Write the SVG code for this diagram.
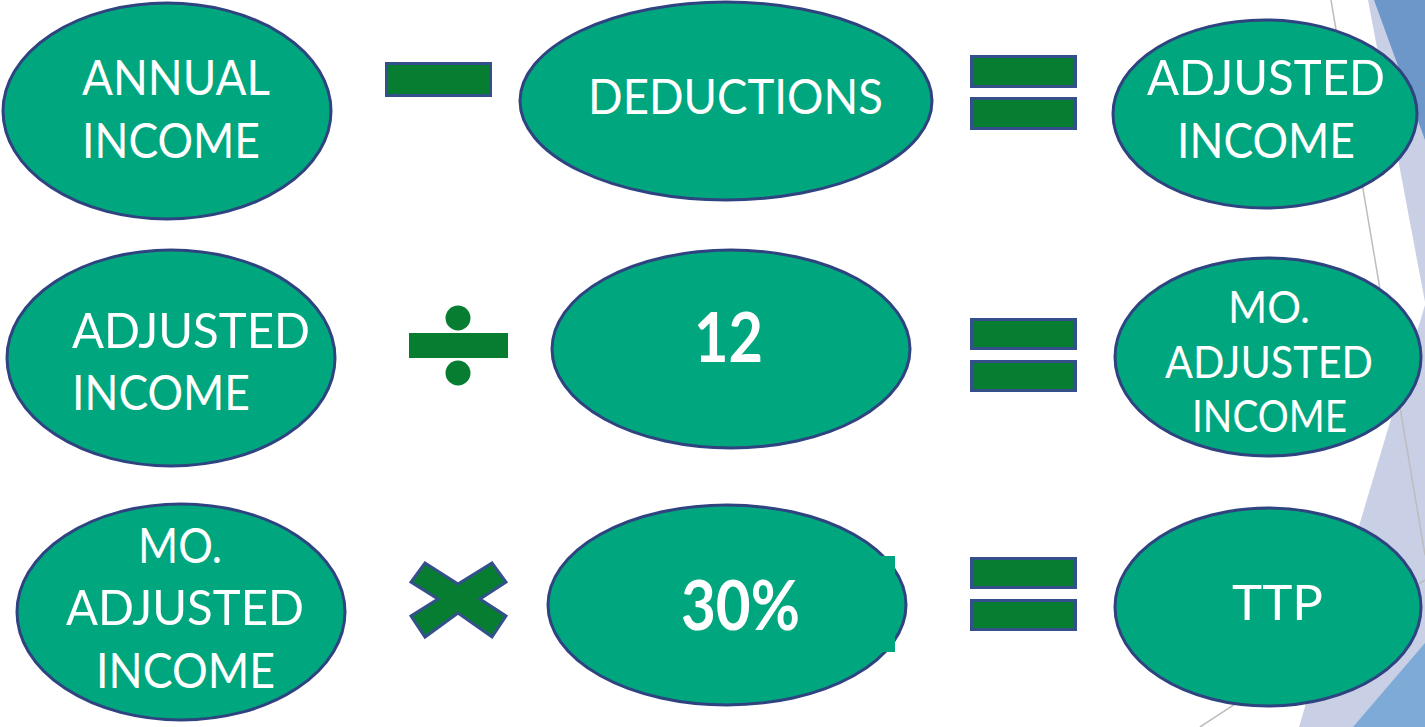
<svg xmlns="http://www.w3.org/2000/svg" width="1425" height="727" viewBox="0 0 1425 727">
  <style>
    .node { fill: #00a67e; stroke: #2e4380; stroke-width: 3; }
    .op { fill: #077d32; stroke: #34508a; stroke-width: 3; }
    .opfill { fill: #077d32; }
    .lbl { font-family: Lato, "Open Sans", sans-serif; fill: #ffffff; font-size: 49px; text-anchor: start; }
    .sm { font-size: 44px; }
    .big { font-family: Lato, "Open Sans", sans-serif; fill: #ffffff; font-weight: bold; font-size: 68px; }
    .rule { stroke: #bdbdbd; stroke-width: 1.5; fill: none; }
  </style>

  <rect width="1425" height="727" fill="#ffffff"/>

  <!-- background facets on the right edge -->
  <g id="backdrop">
    <polygon points="1368,0 1425,0 1425,302" fill="#c9d0e6"/>
    <polygon points="1425,305 1425,727 1299,727" fill="#c9d0e6"/>
    <polygon points="1374,0 1425,0 1425,140" fill="#6d96c9"/>
    <polygon points="1353,727 1425,643 1425,727" fill="#7eaad8"/>
    <line class="rule" x1="1331" y1="0" x2="1425" y2="555"/>
    <line class="rule" x1="1200" y1="727" x2="1425" y2="580"/>
  </g>

  <!-- operators -->
  <g id="operators">
    <rect class="op" x="386.5" y="63.5" width="104" height="32"/>
    <rect class="op" x="971.5" y="56.5" width="104" height="30"/>
    <rect class="op" x="971.5" y="98.5" width="104" height="30"/>
    <rect class="opfill" x="409" y="333" width="99" height="25"/>
    <circle class="opfill" cx="458" cy="318" r="12.5"/>
    <circle class="opfill" cx="458" cy="373" r="12.5"/>
    <rect class="op" x="971.5" y="319.5" width="104" height="29"/>
    <rect class="op" x="971.5" y="361.5" width="104" height="29"/>
    <polygon class="op" points="425,563 458,584 492,563 506,582 480,599 506,616 492,637 458,613 425,637 411,616 438,599 411,582"/>
    <rect class="op" x="971.5" y="558.5" width="104" height="29"/>
    <rect class="op" x="971.5" y="600.5" width="104" height="29"/>
  </g>

  <!-- row 1 -->
  <g id="annual-income">
    <ellipse class="node" cx="167" cy="111" rx="164" ry="108"/>
    <text class="lbl" x="82" y="95" textLength="188" lengthAdjust="spacingAndGlyphs">ANNUAL</text>
    <text class="lbl" x="82" y="158" textLength="178" lengthAdjust="spacingAndGlyphs">INCOME</text>
  </g>
  <g id="deductions">
    <ellipse class="node" cx="726" cy="101" rx="206" ry="99"/>
    <text class="lbl" x="588" y="114" textLength="295" lengthAdjust="spacingAndGlyphs">DEDUCTIONS</text>
  </g>
  <g id="adjusted-income-1">
    <ellipse class="node" cx="1265" cy="114" rx="152" ry="94"/>
    <text class="lbl" x="1147" y="95" textLength="238" lengthAdjust="spacingAndGlyphs">ADJUSTED</text>
    <text class="lbl" x="1177" y="158" textLength="178" lengthAdjust="spacingAndGlyphs">INCOME</text>
  </g>

  <!-- row 2 -->
  <g id="adjusted-income-2">
    <ellipse class="node" cx="171" cy="358" rx="164" ry="108"/>
    <text class="lbl" x="72" y="348" textLength="238" lengthAdjust="spacingAndGlyphs">ADJUSTED</text>
    <text class="lbl" x="72" y="410" textLength="178" lengthAdjust="spacingAndGlyphs">INCOME</text>
  </g>
  <g id="twelve">
    <ellipse class="node" cx="731" cy="349" rx="179" ry="99"/>
    <text class="big" x="694" y="362" textLength="69" lengthAdjust="spacingAndGlyphs">12</text>
  </g>
  <g id="mo-adjusted-income-1">
    <ellipse class="node" cx="1268" cy="357" rx="153" ry="99"/>
    <text class="lbl sm" x="1228" y="323" textLength="82" lengthAdjust="spacingAndGlyphs">MO.</text>
    <text class="lbl sm" x="1165" y="378" textLength="208" lengthAdjust="spacingAndGlyphs">ADJUSTED</text>
    <text class="lbl sm" x="1192" y="432" textLength="155" lengthAdjust="spacingAndGlyphs">INCOME</text>
  </g>

  <!-- row 3 -->
  <g id="mo-adjusted-income-2">
    <ellipse class="node" cx="181" cy="612" rx="164" ry="108"/>
    <text class="lbl" x="138" y="563" textLength="84" lengthAdjust="spacingAndGlyphs">MO.</text>
    <text class="lbl" x="66" y="625" textLength="238" lengthAdjust="spacingAndGlyphs">ADJUSTED</text>
    <text class="lbl" x="96" y="688" textLength="179" lengthAdjust="spacingAndGlyphs">INCOME</text>
  </g>
  <g id="thirty-percent">
    <ellipse class="node" cx="727" cy="605" rx="179" ry="100"/>
    <rect x="600" y="556" width="295" height="96" fill="#00a67e"/>
    <text class="big" x="681" y="630" textLength="119" lengthAdjust="spacingAndGlyphs">30%</text>
  </g>
  <g id="ttp">
    <ellipse class="node" cx="1268" cy="607" rx="153" ry="99"/>
    <text class="lbl" x="1232" y="620" textLength="91" lengthAdjust="spacingAndGlyphs">TTP</text>
  </g>
</svg>
